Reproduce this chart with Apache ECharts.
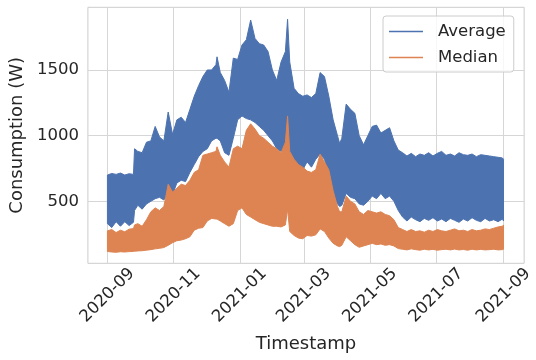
<!DOCTYPE html>
<html><head><meta charset="utf-8">
<script src="https://cdn.jsdelivr.net/npm/echarts@6/dist/echarts.min.js"></script>
<style>html,body{margin:0;padding:0;background:#fff}#c{width:536px;height:360px}</style>
</head><body><div id="c"></div>
<script>
const dates = ['2020-09-01','2020-09-05','2020-09-09','2020-09-13','2020-09-17','2020-09-21','2020-09-25','2020-09-26','2020-09-29',
'2020-10-03','2020-10-07','2020-10-11','2020-10-15','2020-10-19','2020-10-23','2020-10-27','2020-10-31',
'2020-11-04','2020-11-08','2020-11-12','2020-11-16','2020-11-20','2020-11-24','2020-11-28',
'2020-12-02','2020-12-06','2020-12-10','2020-12-11','2020-12-14','2020-12-18','2020-12-22','2020-12-26','2020-12-30',
'2021-01-03','2021-01-07','2021-01-11','2021-01-15','2021-01-19','2021-01-23','2021-01-27','2021-01-31',
'2021-02-04','2021-02-08','2021-02-12','2021-02-14','2021-02-16','2021-02-20','2021-02-24','2021-02-28',
'2021-03-04','2021-03-08','2021-03-12','2021-03-16','2021-03-20','2021-03-24','2021-03-28',
'2021-04-01','2021-04-03','2021-04-05','2021-04-09','2021-04-13','2021-04-17','2021-04-21','2021-04-25','2021-04-29',
'2021-05-03','2021-05-07','2021-05-11','2021-05-15','2021-05-19','2021-05-23','2021-05-27','2021-05-31',
'2021-06-04','2021-06-08','2021-06-12','2021-06-16','2021-06-20','2021-06-24','2021-06-28',
'2021-07-02','2021-07-06','2021-07-10','2021-07-14','2021-07-18','2021-07-22','2021-07-26','2021-07-30',
'2021-08-03','2021-08-07','2021-08-11','2021-08-15','2021-08-19','2021-08-23','2021-08-27','2021-08-31','2021-09-01'];

const avgHigh = [700,712,705,715,700,710,705,900,880,
870,950,960,1070,990,960,1180,1010,
1120,1140,1100,1200,1300,1380,1450,
1500,1500,1540,1600,1480,1420,1330,1590,1580,
1690,1730,1880,1740,1700,1690,1640,1500,
1420,1560,1640,1886,1560,1360,1320,1300,
1310,1290,1320,1480,1450,1300,1120,
1000,940,980,1240,1200,1170,1000,930,1000,
1070,1080,1020,1040,1060,960,890,870,
845,865,840,860,850,870,845,
865,880,850,860,845,870,855,850,
860,840,855,850,845,840,835,830,820];

const avgLow = [330,300,345,310,345,315,340,430,470,
440,480,500,520,530,510,560,550,
640,660,650,720,780,840,880,
900,960,980,980,960,870,850,980,1120,
1150,1130,1120,1100,1070,1040,1000,960,
900,880,860,900,820,790,760,740,
800,760,820,860,820,700,560,
480,460,470,560,530,520,480,470,500,
540,520,560,520,540,500,430,380,
350,380,360,345,370,355,375,
350,365,345,370,355,340,365,350,
375,355,345,370,350,360,345,365,350];

const medHigh = [275,285,262,280,268,288,292,320,330,
310,360,420,450,430,460,630,570,
600,630,620,660,720,740,850,
860,870,880,915,850,800,760,900,920,
900,1040,1090,1050,1000,980,950,920,
900,870,950,1150,880,820,780,760,
730,720,740,860,800,740,580,
460,420,420,540,500,480,420,400,430,
420,410,420,400,390,360,300,285,
270,285,270,275,265,280,270,
285,275,270,280,290,275,280,270,
285,275,280,290,285,295,305,310,320];

const medLow = [118,114,112,116,114,117,118,120,122,
124,128,132,138,142,148,165,185,
200,205,215,230,280,295,300,
350,370,365,365,350,330,310,330,430,
450,400,380,360,340,330,320,310,
310,305,320,440,270,240,220,215,
240,235,245,290,270,220,180,
160,155,165,230,200,170,150,160,170,
180,170,175,165,170,160,140,135,
130,138,132,128,135,130,134,
128,132,135,130,136,130,133,128,
135,130,134,130,132,135,130,132,135];

const xTickDates = ['2020-09-01','2020-11-01','2021-01-01','2021-03-01','2021-05-01','2021-07-01','2021-09-01'];
const yTicks = [500, 1000, 1500];
const xRange = ['2020-08-14', '2021-09-20'];
const yRange = [28, 1977];

const ts = s => new Date(s + 'T00:00:00').getTime();
const FONT = 'DejaVu Sans';
const TXT = '#262626';
const BLUE = '#4C72B0', ORANGE = '#DD8452';

const chart = echarts.init(document.getElementById('c'), null, {renderer: 'canvas'});
const xTickVals = xTickDates.map(ts);

// band rows: [time, low, high]
const rows = (lo, hi) => dates.map((d, i) => [ts(d), lo[i], hi[i]]);

function bandSeries(name, lo, hi, color) {
  const data = rows(lo, hi);
  return {
    name, type: 'custom', coordinateSystem: 'cartesian2d',
    itemStyle: {color},
    encode: {x: 0, y: [1, 2]},
    data,
    renderItem: function (params, api) {
      if (params.dataIndex !== 0) return null;
      const top = data.map(r => api.coord([r[0], r[2]]));
      const bottom = data.map(r => api.coord([r[0], r[1]])).reverse();
      return {
        type: 'polygon',
        shape: {points: top.concat(bottom)},
        style: {fill: color, stroke: color, lineWidth: 1, lineJoin: 'miter'}
      };
    }
  };
}

chart.setOption({
  animation: false,
  backgroundColor: '#ffffff',
  grid: {left: 87.3, right: 11, top: 7.3, bottom: 96.7, show: true, borderColor: '#cccccc', borderWidth: 1, containLabel: false},
  xAxis: {
    type: 'value', min: ts(xRange[0]), max: ts(xRange[1]), scale: true,
    axisLine: {show: false}, axisTick: {show: false, customValues: xTickVals},
    splitLine: {show: true, lineStyle: {color: '#d6d6d6', width: 1}},
    axisLabel: {
      customValues: xTickVals, rotate: 45, align: 'center', verticalAlign: 'middle', margin: 32,
      fontFamily: FONT, fontSize: 16.5, color: TXT,
      formatter: v => { const d = new Date(v); return d.getFullYear() + '-' + String(d.getMonth() + 1).padStart(2, '0'); }
    },
    name: 'Timestamp', nameLocation: 'middle', nameGap: 72,
    nameTextStyle: {fontFamily: FONT, fontSize: 18, color: TXT}
  },
  yAxis: {
    type: 'value', min: yRange[0], max: yRange[1],
    axisLine: {show: false}, axisTick: {show: false, customValues: yTicks},
    splitLine: {show: true, lineStyle: {color: '#d6d6d6', width: 1}},
    axisLabel: {customValues: yTicks, fontFamily: FONT, fontSize: 16.5, color: TXT, margin: 9,
      formatter: v => String(v)},
    name: 'Consumption (W)', nameLocation: 'middle', nameGap: 50,
    nameTextStyle: {fontFamily: FONT, fontSize: 18, color: TXT}
  },
  legend: {
    data: ['Average', 'Median'], orient: 'vertical', left: 383, top: 16,
    icon: 'rect', itemWidth: 34, itemHeight: 1.5, itemGap: 9,
    padding: [7, 8, 6, 6],
    backgroundColor: 'rgba(255,255,255,0.8)', borderColor: '#cccccc', borderWidth: 1, borderRadius: 3,
    textStyle: {fontFamily: FONT, fontSize: 16.5, color: TXT, padding: [0, 0, 0, 10]}
  },
  series: [
    bandSeries('Average', avgLow, avgHigh, BLUE),
    bandSeries('Median', medLow, medHigh, ORANGE)
  ]
});
</script></body></html>
